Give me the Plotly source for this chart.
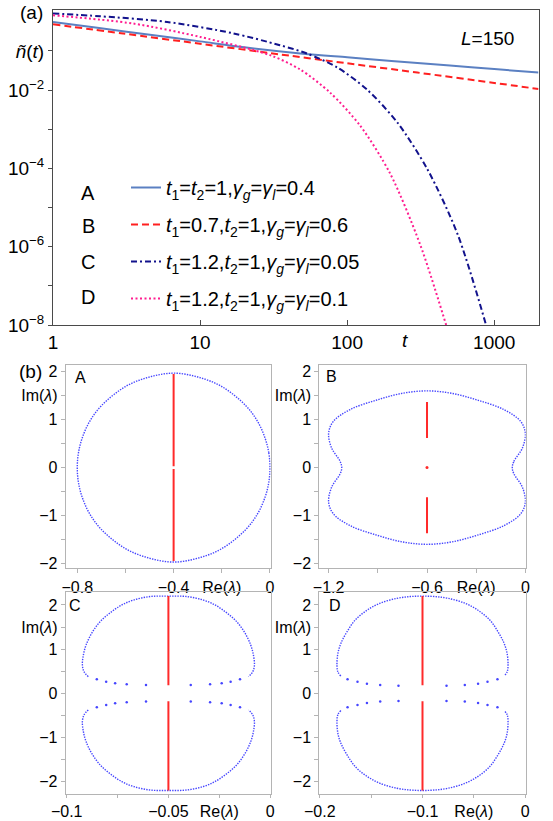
import plotly.graph_objects as go

W, H = 553, 821
FONT = "Liberation Sans, Arial, sans-serif"

# ---------------- panel (a) data ----------------
t_A = [1, 2, 5, 10, 20, 50, 100, 200, 500, 1000, 2000]
n_A = [0.552, 0.393, 0.248, 0.176, 0.124, 0.0853, 0.069, 0.0559, 0.0427, 0.0345, 0.0281]

t_B = [1, 3, 10, 30, 100, 300, 1000, 2000]
n_B = [0.483, 0.279, 0.153, 0.0883, 0.0485, 0.0281, 0.0153, 0.0107]

t_C = [1, 2.09, 5.97, 16.7, 34.9, 53.5, 85.8, 137, 220, 352, 564, 880]
n_C = [0.906, 0.773, 0.552, 0.284, 0.1406, 0.0859, 0.0378, 0.0102, 1.47e-3, 9.4e-5, 2.07e-6, 1.0e-8]

t_D = [1, 3.5, 10, 29.9, 47.9, 76.6, 122.5, 196, 314, 471]
n_D = [0.818, 0.503, 0.229, 0.0782, 0.0337, 8.63e-3, 1.24e-3, 7.41e-5, 1.12e-6, 1e-8]

labels_a = ["A", "B", "C", "D"]
legend_text = [
    "<i>t</i><sub>1</sub>=<i>t</i><sub>2</sub>=1,<i>γ</i><sub><i>g</i></sub>=<i>γ</i><sub><i>l</i></sub>=0.4",
    "<i>t</i><sub>1</sub>=0.7,<i>t</i><sub>2</sub>=1,<i>γ</i><sub><i>g</i></sub>=<i>γ</i><sub><i>l</i></sub>=0.6",
    "<i>t</i><sub>1</sub>=1.2,<i>t</i><sub>2</sub>=1,<i>γ</i><sub><i>g</i></sub>=<i>γ</i><sub><i>l</i></sub>=0.05",
    "<i>t</i><sub>1</sub>=1.2,<i>t</i><sub>2</sub>=1,<i>γ</i><sub><i>g</i></sub>=<i>γ</i><sub><i>l</i></sub>=0.1",
]
x_ticks_a = [1, 10, 100, 1000]
y_ticks_a = [1e-1, 1e-2, 1e-3, 1e-4, 1e-5, 1e-6, 1e-7, 1e-8]
y_ticktext_a = ["<i>ñ</i>(<i>t</i>)", "10<sup>−2</sup>", "", "10<sup>−4</sup>", "",
                "10<sup>−6</sup>", "", "10<sup>−8</sup>"]

# ---------------- panel (b) data ----------------
specA_re = [0.0, -0.005, -0.02, -0.05, -0.1, -0.2, -0.3, -0.4, -0.5, -0.6, -0.7, -0.75, -0.78, -0.795, -0.8,
            -0.795, -0.78, -0.75, -0.7, -0.6, -0.5, -0.4, -0.3, -0.2, -0.1, -0.05, -0.02, -0.005, 0.0]
specA_im = [0.0, 0.31, 0.61, 0.95, 1.29, 1.69, 1.89, 1.97, 1.89, 1.69, 1.29, 0.95, 0.61, 0.31, 0.0,
            -0.31, -0.61, -0.95, -1.29, -1.69, -1.89, -1.97, -1.89, -1.69, -1.29, -0.95, -0.61, -0.31, 0.0]
redA_re = [-0.4, -0.4, None, -0.4, -0.4]
redA_im = [0.03, 1.95, None, -0.03, -1.95]

specB_re = [-0.08, -0.07, -0.018, 0.0, -0.029, -0.131, -0.294, -0.45, -0.6, -0.75, -0.906, -1.069, -1.171, -1.2,
            -1.182, -1.13, -1.12, -1.13, -1.182, -1.2, -1.171, -1.069, -0.906, -0.75, -0.6, -0.45, -0.294, -0.131,
            -0.029, 0.0, -0.018, -0.07, -0.08]
specB_im = [0.0, 0.13, 0.41, 0.72, 0.965, 1.21, 1.41, 1.55, 1.6, 1.55, 1.41, 1.21, 0.965, 0.72,
            0.41, 0.13, 0.0, -0.13, -0.41, -0.72, -0.965, -1.21, -1.41, -1.55, -1.6, -1.55, -1.41, -1.21,
            -0.965, -0.72, -0.41, -0.13, 0.0]
redB_re = [-0.6, -0.6, None, -0.6, -0.6]
redB_im = [0.62, 1.37, None, -0.62, -1.37]
dotB_re = [-0.6]
dotB_im = [0.0]

specC_up_re = [-0.0894, -0.0915, -0.0923, -0.0918, -0.0905, -0.0877, -0.0836, -0.0787, -0.0729, -0.0672, -0.059, -0.05,
               -0.041, -0.0328, -0.0271, -0.0213, -0.0164, -0.0123, -0.0095, -0.0082, -0.0077, -0.0085, -0.0106]
specC_up_im = [0.376, 0.49, 0.64, 0.867, 1.09, 1.36, 1.62, 1.82, 2.0, 2.11, 2.19, 2.2,
               2.19, 2.11, 2.0, 1.82, 1.62, 1.36, 1.09, 0.867, 0.64, 0.49, 0.376]
specC_lo_im = [-0.376, -0.49, -0.64, -0.867, -1.09, -1.36, -1.62, -1.82, -2.0, -2.11, -2.19, -2.2,
               -2.19, -2.11, -2.0, -1.82, -1.62, -1.36, -1.09, -0.867, -0.64, -0.49, -0.376]
dotsC_re = [-0.0852, -0.0806, -0.0762, -0.0705, -0.061, -0.039, -0.0295, -0.0238, -0.0194, -0.0148,
            -0.0852, -0.0806, -0.0762, -0.0705, -0.061, -0.039, -0.0295, -0.0238, -0.0194, -0.0148]
dotsC_im = [0.317, 0.263, 0.226, 0.204, 0.188, 0.188, 0.204, 0.226, 0.263, 0.317,
            -0.317, -0.263, -0.226, -0.204, -0.188, -0.188, -0.204, -0.226, -0.263, -0.317]
redC_re = [-0.05, -0.05, None, -0.05, -0.05]
redC_im = [0.18, 2.2, None, -0.18, -2.2]

specD_up_re = [-0.1795, -0.1825, -0.1833, -0.1824, -0.1795, -0.1736, -0.1655, -0.1541, -0.1412, -0.1249, -0.112, -0.1,
               -0.088, -0.0751, -0.0588, -0.0459, -0.0345, -0.0264, -0.0205, -0.0176, -0.0167, -0.0175, -0.0205]
specD_up_im = [0.39, 0.49, 0.64, 0.905, 1.13, 1.39, 1.66, 1.88, 2.04, 2.15, 2.19, 2.2,
               2.19, 2.15, 2.04, 1.88, 1.66, 1.39, 1.13, 0.905, 0.64, 0.49, 0.39]
specD_lo_im = [-0.39, -0.49, -0.64, -0.905, -1.13, -1.39, -1.66, -1.88, -2.04, -2.15, -2.19, -2.2,
               -2.19, -2.15, -2.04, -1.88, -1.66, -1.39, -1.13, -0.905, -0.64, -0.49, -0.39]
dotsD_re = [-0.173, -0.1633, -0.1541, -0.1412, -0.1234, -0.0766, -0.0588, -0.0459, -0.0367, -0.027,
            -0.173, -0.1633, -0.1541, -0.1412, -0.1234, -0.0766, -0.0588, -0.0459, -0.0367, -0.027]
dotsD_im = [0.317, 0.263, 0.218, 0.188, 0.172, 0.172, 0.188, 0.218, 0.263, 0.317,
            -0.317, -0.263, -0.218, -0.188, -0.172, -0.172, -0.188, -0.218, -0.263, -0.317]
redD_re = [-0.1, -0.1, None, -0.1, -0.1]
redD_im = [0.18, 2.2, None, -0.18, -2.2]

# ---------------- styles ----------------
col_A = "#5b80c2"
col_B = "#ff2020"
col_C = "#12128c"
col_D = "#ff1e90"
blue = "rgb(70,70,255)"
red = "#ff2a2a"

fig = go.Figure()

curves = [(t_A, n_A, col_A, "solid"), (t_B, n_B, col_B, "7px,4px"),
          (t_C, n_C, col_C, "6px,3px,2px,3px"), (t_D, n_D, col_D, "2px,2.5px")]
for i, (tx, ny, c, d) in enumerate(curves):
    fig.add_trace(go.Scatter(x=tx, y=ny, mode="lines", name=legend_text[i],
                             line=dict(color=c, width=2, dash=d, shape="spline", smoothing=0.8),
                             legendgroup=labels_a[i], xaxis="x", yaxis="y"))

def contour(x, y, ax):
    fig.add_trace(go.Scatter(x=x, y=y, mode="lines", showlegend=False, xaxis="x" + ax, yaxis="y" + ax,
                             line=dict(color=blue, width=1.4, dash="1.4px,1.2px", shape="spline")))

def redline(x, y, ax):
    fig.add_trace(go.Scatter(x=x, y=y, mode="lines", showlegend=False, xaxis="x" + ax, yaxis="y" + ax,
                             line=dict(color=red, width=2)))

def dots(x, y, ax, c=blue, s=2.5):
    fig.add_trace(go.Scatter(x=x, y=y, mode="markers", showlegend=False, xaxis="x" + ax, yaxis="y" + ax,
                             marker=dict(color=c, size=s, line=dict(width=0))))

contour(specA_re, specA_im, "2"); redline(redA_re, redA_im, "2")
contour(specB_re, specB_im, "3"); redline(redB_re, redB_im, "3"); dots(dotB_re, dotB_im, "3", red, 3)
contour(specC_up_re, specC_up_im, "4"); contour(specC_up_re, specC_lo_im, "4")
dots(dotsC_re, dotsC_im, "4"); redline(redC_re, redC_im, "4")
contour(specD_up_re, specD_up_im, "5"); contour(specD_up_re, specD_lo_im, "5")
dots(dotsD_re, dotsD_im, "5"); redline(redD_re, redD_im, "5")

def px_x(p):
    return p / W

def px_y(p):
    return 1 - p / H

frame_a = "#4a4a4a"
frame_b = "#b4b4b4"

layout = dict(
    template="none",
    width=W, height=H, autosize=False,
    margin=dict(l=0, r=0, t=0, b=0, pad=0, autoexpand=False),
    paper_bgcolor="white", plot_bgcolor="white",
    font=dict(family=FONT, color="black"),
    hovermode=False,
    xaxis=dict(type="log", range=[0, 3.301], domain=[px_x(53), px_x(538.5)], anchor="y",
               tickmode="array", tickvals=x_ticks_a, ticktext=[str(v) for v in x_ticks_a],
               ticks="inside", ticklen=5, tickcolor=frame_a, showline=True, linecolor=frame_a,
               linewidth=1, mirror=True, showgrid=False, zeroline=False, automargin=False,
               tickfont=dict(size=19)),
    yaxis=dict(type="log", range=[-8, 0.06], domain=[px_y(325), px_y(9.5)], anchor="x",
               tickmode="array", tickvals=y_ticks_a, ticktext=y_ticktext_a,
               ticks="outside", ticklen=4, tickcolor=frame_a, showline=True, linecolor=frame_a,
               linewidth=1, mirror=True, showgrid=False, zeroline=False, automargin=False,
               tickfont=dict(size=19)),
    legend=dict(x=px_x(126), y=px_y(168), xanchor="left", yanchor="top",
                bgcolor="rgba(0,0,0,0)", borderwidth=0, font=dict(size=20, family=FONT),
                tracegroupgap=8, traceorder="grouped"),
    showlegend=True,
)

def baxis(dom, rng, vals, text, anchor, tl=4):
    return dict(domain=dom, range=rng, anchor=anchor, tickmode="array", tickvals=vals, ticktext=text,
                ticks="outside", ticklen=tl, tickcolor=frame_b, showline=True, linecolor=frame_b,
                linewidth=1, mirror=True, showgrid=False, zeroline=False, automargin=False,
                tickfont=dict(size=16))

yv = [-2, -1.5, -1, -0.5, 0, 0.5, 1, 1.5, 2]
yt = ["−2", "", "−1", "", "0", "", "1", "Im(<i>λ</i>)", "2"]
re_lbl = "Re(<i>λ</i>)"

xA = [px_x(65.7), px_x(270.7)]
xB = [px_x(319.3), px_x(525.7)]
yTop = [px_y(568.3), px_y(365)]
yBot = [px_y(794), px_y(591.7)]

layout["xaxis2"] = baxis(xA, [-0.848, 0.003], [-0.8, -0.6, -0.4, -0.2, 0], ["−0.8", "", "−0.4", re_lbl, "0"], "y2")
layout["yaxis2"] = baxis(yTop, [-2.10, 2.14], yv, yt, "x2")
layout["xaxis3"] = baxis(xB, [-1.257, 0.002], [-1.2, -0.9, -0.6, -0.3, 0], ["−1.2", "", "−0.6", re_lbl, "0"], "y3")
layout["yaxis3"] = baxis(yTop, [-2.10, 2.14], yv, yt, "x3")
layout["xaxis4"] = baxis(xA, [-0.1005, 0.0003], [-0.1, -0.075, -0.05, -0.025, 0], ["−0.1", "", "−0.05", re_lbl, "0"], "y4", 3)
layout["yaxis4"] = baxis(yBot, [-2.28, 2.30], yv, yt, "x4")
layout["xaxis5"] = baxis(xB, [-0.2005, 0.0005], [-0.2, -0.15, -0.1, -0.05, 0], ["−0.2", "", "−0.1", re_lbl, "0"], "y5", 3)
layout["yaxis5"] = baxis(yBot, [-2.28, 2.30], yv, yt, "x5")

fig.update_layout(**layout)

def ann(text, x, y, size, xanchor="center"):
    fig.add_annotation(text=text, x=px_x(x), y=px_y(y), xref="paper", yref="paper",
                       showarrow=False, xanchor=xanchor, yanchor="middle",
                       font=dict(size=size, family=FONT, color="black"))

ann("(a)", 31, 13, 19)
ann("<i>L</i>=150", 487, 39, 19)
ann("<i>t</i>", 405, 340, 19)
ann("(b)", 30, 372, 19)
for lab, yy in zip(labels_a, [193, 226, 262, 297]):
    ann(lab, 88, yy, 20)
ann("A", 80, 377, 16)
ann("B", 331, 376, 16)
ann("C", 75, 605, 16)
ann("D", 335, 605, 16)

fig.write_html("out.html", config={"displayModeBar": False, "staticPlot": True},
               post_script="document.body.style.margin='0px';")
